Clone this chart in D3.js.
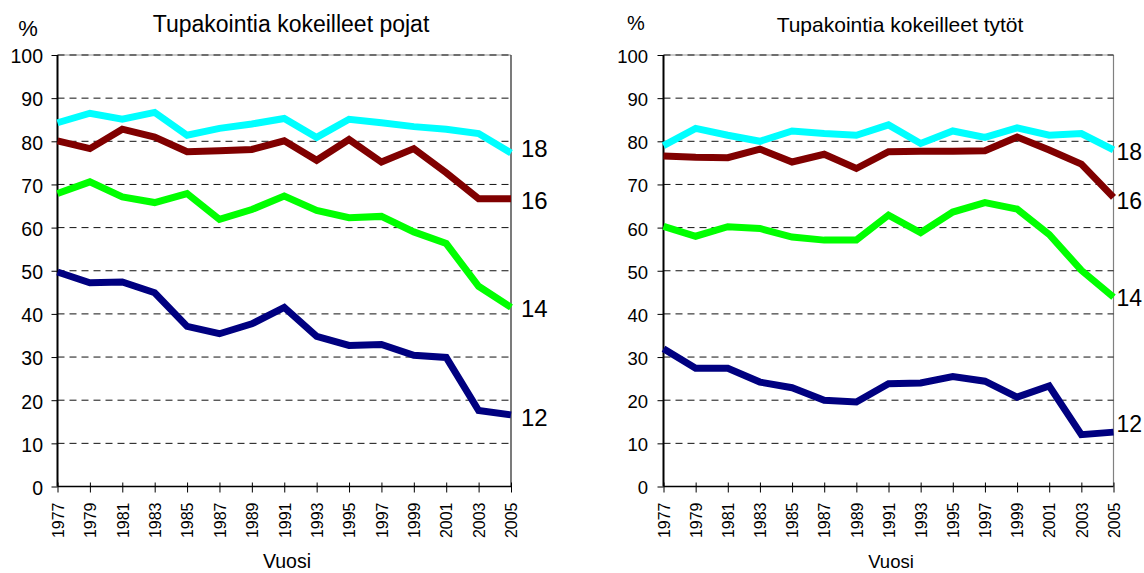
<!DOCTYPE html>
<html><head><meta charset="utf-8">
<script src="https://cdn.jsdelivr.net/npm/d3@7"></script>
<style>body{margin:0;background:#fff}svg{display:block}text{font-family:Arial,"Liberation Sans",sans-serif;fill:#000}</style>
</head><body>
<svg id="c" width="1144" height="573"></svg>
<script>
const years = [1977,1979,1981,1983,1985,1987,1989,1991,1993,1995,1997,1999,2001,2003,2005];
const yTicks = [0,10,20,30,40,50,60,70,80,90,100];
const ageLabels = ["18","16","14","12"];
const colors = ["#00ffff","#800000","#00ff00","#000080"];
const titles = ["Tupakointia kokeilleet pojat","Tupakointia kokeilleet tytöt"];

const boys18 = [84.3,86.5,85.1,86.7,81.4,83.0,84.0,85.3,80.9,85.1,84.3,83.4,82.8,81.8,77.3];
const boys16 = [80.1,78.3,82.8,81.0,77.6,77.8,78.1,80.1,75.6,80.4,75.2,78.3,72.7,66.7,66.7];
const boys14 = [67.9,70.6,67.1,65.8,67.9,61.9,64.2,67.3,64.0,62.3,62.6,59.0,56.3,46.4,41.5];
const boys12 = [49.7,47.2,47.4,44.9,37.1,35.4,37.7,41.5,34.8,32.7,32.9,30.4,29.9,17.6,16.6];

const girls18 = [79.0,83.0,81.4,80.0,82.4,81.8,81.4,83.8,79.5,82.4,80.9,83.1,81.4,81.8,78.0];
const girls16 = [76.6,76.3,76.2,78.2,75.2,77.0,73.7,77.6,77.7,77.7,77.8,81.0,78.0,74.7,67.0];
const girls14 = [60.3,58.0,60.2,59.8,57.8,57.1,57.1,62.9,58.8,63.6,65.8,64.3,58.4,50.1,43.9];
const girls12 = [31.9,27.4,27.4,24.2,22.9,20.0,19.6,23.8,24.0,25.5,24.4,20.7,23.3,12.0,12.6];

const panels = [
  {title: titles[0], series: [boys18,boys16,boys14,boys12], x0: 57.5, x1: 511, titleX: 291, titleSize: 23,
   pctX: 28, pctY: 36, pctSize: 22, yLabRight: 43, yLabSize: 19.5, labX: 10, labSize: 24, labDy: [-5,2,1,2],
   border: "#222", vuosiX: 287, vuosiSize: 19.5},
  {title: titles[1], series: [girls18,girls16,girls14,girls12], x0: 663.5, x1: 1113.5, titleX: 900, titleSize: 21,
   pctX: 636, pctY: 30, pctSize: 20, yLabRight: 648, yLabSize: 18.5, labX: 3, labSize: 23, labDy: [2,3,1,-8],
   border: "#808080", vuosiX: 891, vuosiSize: 18.5}
];

const svg = d3.select("#c");
const yTop = 55, yBot = 486.5;
const FONT = "Arial, 'Liberation Sans', sans-serif";

panels.forEach(p => {
  const g = svg.append("g");
  const x = d3.scalePoint().domain(years).range([p.x0, p.x1]);
  const y = d3.scaleLinear().domain([0,100]).range([yBot, yTop]);

  // top border
  g.append("line").attr("x1", p.x0).attr("x2", p.x1).attr("y1", y(100)).attr("y2", y(100))
    .attr("stroke", "#999").attr("stroke-width", 1);
  // right border
  g.append("line").attr("x1", p.x1).attr("x2", p.x1).attr("y1", yTop).attr("y2", yBot)
    .attr("stroke", p.border).attr("stroke-width", 1.2);

  // grid
  g.selectAll(".grid").data(yTicks.filter(d => d > 0)).enter().append("line")
    .attr("x1", p.x0).attr("x2", p.x1)
    .attr("y1", d => y(d)).attr("y2", d => y(d))
    .attr("stroke", "#111").attr("stroke-width", 1).attr("stroke-dasharray", "7,5");

  // y axis
  const ya = d3.axisLeft(y).tickValues(yTicks).tickSize(6).tickPadding(p.x0 - 6 - p.yLabRight);
  const yg = g.append("g").attr("transform", `translate(${p.x0},0)`).call(ya);
  yg.select(".domain").attr("stroke", "#000").attr("stroke-width", 2).attr("d", `M0,${yTop}V${yBot}`);
  yg.selectAll(".tick line").attr("stroke", "#000");
  yg.selectAll(".tick text").style("font-size", p.yLabSize + "px").style("font-family", FONT).attr("fill", "#000").attr("dy", "0.4em");

  // x axis
  const xa = d3.axisBottom(x).tickSize(6).tickPadding(0);
  const xg = g.append("g").attr("transform", `translate(0,${yBot})`).call(xa);
  xg.select(".domain").attr("stroke", "#000").attr("stroke-width", 1.5).attr("d", `M${p.x0},0H${p.x1}`);
  xg.selectAll(".tick line").attr("stroke", "#000").attr("y1", -4);
  xg.selectAll(".tick text")
    .style("font-size", "16px").style("font-family", FONT).attr("fill", "#000")
    .attr("text-anchor", "end").attr("dy", "0.36em")
    .attr("transform", "translate(0,16) rotate(-90)").attr("y", 0).attr("x", 0);

  // lines
  const line = d3.line().x((d,i) => x(years[i])).y(d => y(d));
  p.series.forEach((s, k) => {
    g.append("path").datum(s).attr("d", line).attr("fill", "none")
      .attr("stroke", colors[k]).attr("stroke-width", 7).attr("stroke-linejoin", "miter").attr("stroke-linecap", "butt");
  });
  // end labels
  p.series.forEach((s, k) => {
    g.append("text").attr("x", p.x1 + p.labX).attr("y", y(s[s.length-1]) + p.labDy[k])
      .attr("dy", "0.36em").style("font-size", p.labSize + "px").text(ageLabels[k]);
  });

  // title, %, Vuosi
  g.append("text").attr("x", p.titleX).attr("y", 32).attr("text-anchor", "middle").style("font-size", p.titleSize + "px").text(p.title);
  g.append("text").attr("x", p.pctX).attr("y", p.pctY).attr("text-anchor", "middle").style("font-size", p.pctSize + "px").text("%");
  g.append("text").attr("x", p.vuosiX).attr("y", 568).attr("text-anchor", "middle").style("font-size", p.vuosiSize + "px").text("Vuosi");
});
</script>
</body></html>
